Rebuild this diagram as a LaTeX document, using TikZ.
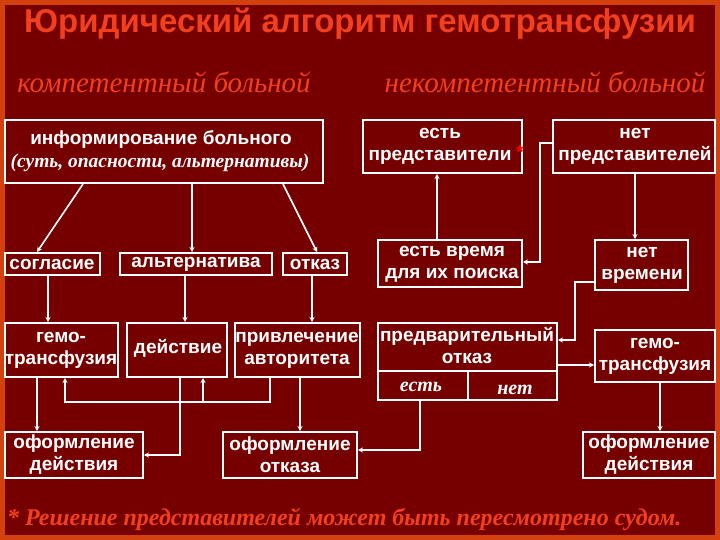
\documentclass[tikz,border=0pt]{standalone}
\usepackage{fontspec}
\usetikzlibrary{arrows.meta}
\setmainfont{Liberation Sans}
\newfontfamily\ser{Liberation Serif}
\definecolor{bg}{HTML}{760000}
\definecolor{frm}{HTML}{D4400E}
\definecolor{ttl}{HTML}{F2401E}
\begin{document}
\begin{tikzpicture}[x=1pt,y=-1pt,
  bx/.style={draw=white,line width=1.6pt,fill=bg},
  tx/.style={text=white,font=\bfseries\fontsize{19}{22}\selectfont,align=center,inner sep=0pt},
  it/.style={text=white,font=\ser\itshape\bfseries\fontsize{20}{20}\selectfont,inner sep=0pt},
  ln/.style={draw=white,line width=1.6pt},
  ar/.style={ln,-{Stealth[length=5pt,width=5pt]}}]
\fill[frm] (0,0) rectangle (720,540);
\fill[bg] (5,5) rectangle (715,535);
\useasboundingbox (0,0) rectangle (720,540);
\node[text=ttl,font=\bfseries\fontsize{33}{36}\selectfont,inner sep=0pt] (title) at (360,24) {Юридический алгоритм гемотрансфузии};
\node[text=ttl,font=\ser\itshape\fontsize{29}{30}\selectfont,inner sep=0pt] (comp) at (164,82) {компетентный больной};
\node[text=ttl,font=\ser\itshape\fontsize{29}{30}\selectfont,inner sep=0pt] (incomp) at (545,82) {некомпетентный больной};
% boxes
\path[bx] (5,120) rectangle (323,183);
\node[tx] (infot) at (161,140) {информирование больного};
\node[text=white,font=\ser\itshape\bfseries\fontsize{19.5}{20}\selectfont,inner sep=0pt] (infos) at (160,163) {(суть, опасности, альтернативы)};
\path[bx] (363,120) rectangle (522,173);
\node[tx] (ep) at (440,146) {есть\\представители};
\node[text=red,font=\bfseries\fontsize{19}{19}\selectfont,inner sep=0pt] (star) at (520,152) {*};
\path[bx] (553,120) rectangle (715,173);
\node[tx] (np) at (635,146) {нет\\представителей};
\path[bx] (5,253) rectangle (100,275); \node[tx] (sogl) at (52,264) {согласие};
\path[bx] (120,253) rectangle (272,275); \node[tx] (alt) at (196,264) {альтернатива};
\path[bx] (283,253) rectangle (347,275); \node[tx] (otk) at (315,264) {отказ};
\path[bx] (378,240) rectangle (522,287); \node[tx] (ev) at (452,264) {есть время\\для их поиска};
\path[bx] (595,240) rectangle (688,290); \node[tx] (nv) at (642,265) {нет\\времени};
\path[bx] (5,323) rectangle (118,377); \node[tx] (gem1) at (61,350) {гемо-\\трансфузия};
\path[bx] (127,323) rectangle (227,377); \node[tx] (dei) at (178,348) {действие};
\path[bx] (235,323) rectangle (360,377); \node[tx] (priv) at (297,350) {привлечение\\авторитета};
\path[bx] (378,323) rectangle (557,400);
\draw[ln] (378,371) -- (557,371) (468,371) -- (468,400);
\node[tx] (pred) at (467,346) {предварительный\\отказ};
\node[it] (est) at (421,387) {есть};
\node[it] (net) at (515,390) {нет};
\path[bx] (595,330) rectangle (715,382); \node[tx] (gem2) at (655,356) {гемо-\\трансфузия};
\path[bx] (5,432) rectangle (143,478); \node[tx] (of1) at (74,455) {оформление\\действия};
\path[bx] (223,432) rectangle (357,478); \node[tx] (of2) at (290,455) {оформление\\отказа};
\path[bx] (583,432) rectangle (715,478); \node[tx] (of3) at (649,455) {оформление\\действия};
% arrows
\draw[ar] (83,184) -- (37,252);
\draw[ar] (192,184) -- (192,252);
\draw[ar] (283,184) -- (317,252);
\draw[ar] (437,240) -- (437,174);
\draw[ar] (553,143) -- (540,143) -- (540,262) -- (523,262);
\draw[ar] (635,173) -- (635,239);
\draw[ar] (595,282) -- (575,282) -- (575,340) -- (558,340);
\draw[ar] (557,365) -- (594,365);
\draw[ar] (660,382) -- (660,431);
\draw[ar] (48,275) -- (48,322);
\draw[ar] (185,275) -- (185,322);
\draw[ar] (312,275) -- (312,322);
\draw[ar] (37,377) -- (37,431);
\draw[ar] (180,377) -- (180,455) -- (144,455);
\draw[ar] (270,377) -- (270,402) -- (65,402) -- (65,378);
\draw[ar] (203,402) -- (203,378);
\draw[ar] (300,377) -- (300,431);
\draw[ar] (420,400) -- (420,450) -- (358,450);
\node[text=ttl,font=\ser\itshape\bfseries\fontsize{24}{26}\selectfont,anchor=west,inner sep=0pt] (foot) at (7,519) {* Решение представителей может быть пересмотрено судом.};
\end{tikzpicture}
\end{document}
